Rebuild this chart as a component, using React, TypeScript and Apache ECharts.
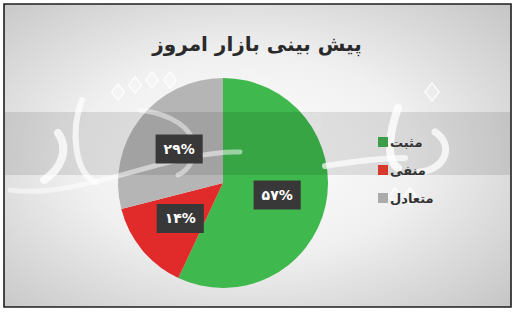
import React, { useEffect, useRef } from "react";
import * as echarts from "echarts";

const title = "پیش بینی بازار امروز";
const categories = ["مثبت", "منفی", "متعادل"];
const values = [57, 14, 29];
const colors = ["#3fb84d", "#e12b2b", "#b5b5b5"];
const legendColors = ["#3c9c47", "#d8372b", "#ababab"];
const toPersian = (n: number) => String(n).replace(/[0-9]/g, (d) => "۰۱۲۳۴۵۶۷۸۹"[+d]);

const strokeStyle = (w: number, a: number) => ({
  stroke: `rgba(255,255,255,${a})`,
  lineWidth: w,
  fill: "none",
  lineCap: "round",
});

const diamond = (cx: number, cy: number, s: number) => ({
  type: "polygon",
  z: 11,
  silent: true,
  shape: { points: [[cx, cy - s], [cx + s * 0.8, cy], [cx, cy + s], [cx - s * 0.8, cy]] },
  style: { fill: "rgba(255,255,255,0.25)", stroke: "rgba(255,255,255,0.8)", lineWidth: 1.5 },
});

export default function App() {
  const ref = useRef<HTMLDivElement>(null);
  useEffect(() => {
    const chart = echarts.init(ref.current!, null, { renderer: "svg" });
    const font = "DejaVu Sans";
    const pieBase = {
      type: "pie",
      center: [223, 183],
      radius: 105,
      startAngle: 90,
      clockwise: true,
      labelLine: { show: false },
      emphasis: { disabled: true },
      silent: true,
    };
    chart.setOption({
      animation: false,
      graphic: [
        {
          type: "rect",
          z: -10,
          shape: { x: 4, y: 4, width: 507, height: 303 },
          style: {
            fill: new echarts.graphic.RadialGradient(0.48, 0.5, 0.75, [
              { offset: 0, color: "#ffffff" },
              { offset: 0.45, color: "#f0f0f0" },
              { offset: 1, color: "#c2c2c2" },
            ]),
            stroke: "#1e1e1e",
            lineWidth: 1.6,
          },
        },
        {
          type: "rect",
          z: 10,
          silent: true,
          shape: { x: 5, y: 112, width: 505, height: 63 },
          style: { fill: "rgba(0,0,0,0.1)" },
        },
        { type: "bezierCurve", z: 11, silent: true, shape: { x1: 58, y1: 133, x2: 44, y2: 180, cpx1: 70, cpy1: 150, cpx2: 60, cpy2: 170 }, style: strokeStyle(8, 0.75) },
        { type: "bezierCurve", z: 11, silent: true, shape: { x1: 82, y1: 100, x2: 96, y2: 182, cpx1: 70, cpy1: 130, cpx2: 75, cpy2: 175 }, style: strokeStyle(6, 0.7) },
        { type: "bezierCurve", z: 11, silent: true, shape: { x1: 10, y1: 190, x2: 240, y2: 152, cpx1: 80, cpy1: 200, cpx2: 170, cpy2: 150 }, style: strokeStyle(5, 0.5) },
        { type: "bezierCurve", z: 11, silent: true, shape: { x1: 140, y1: 110, x2: 178, y2: 175, cpx1: 210, cpy1: 120, cpx2: 200, cpy2: 165 }, style: strokeStyle(5, 0.45) },
        { type: "bezierCurve", z: 11, silent: true, shape: { x1: 398, y1: 108, x2: 398, y2: 168, cpx1: 390, cpy1: 130, cpx2: 385, cpy2: 160 }, style: strokeStyle(8, 0.8) },
        { type: "bezierCurve", z: 11, silent: true, shape: { x1: 435, y1: 132, x2: 420, y2: 172, cpx1: 455, cpy1: 145, cpx2: 445, cpy2: 170 }, style: strokeStyle(7, 0.75) },
        { type: "bezierCurve", z: 11, silent: true, shape: { x1: 325, y1: 166, x2: 405, y2: 158, cpx1: 350, cpy1: 162, cpx2: 380, cpy2: 158 }, style: strokeStyle(6, 0.7) },
        diamond(118, 92, 8),
        diamond(135, 85, 8),
        diamond(152, 80, 8),
        diamond(170, 80, 8),
        diamond(432, 92, 9),
        diamond(395, 196, 8),
        diamond(410, 196, 8),
        {
          type: "group",
          z: 11,
          x: 292,
          y: 122,
          children: [
            {
              type: "rect",
              shape: { x: -28, y: -8, width: 56, height: 16 },
              style: { fill: "rgba(255,255,255,0.3)", stroke: "rgba(255,255,255,0.7)", lineWidth: 1 },
            },
            {
              type: "text",
              style: {
                text: "روزنامه صبح ایران",
                x: 0,
                y: 0,
                align: "center",
                verticalAlign: "middle",
                font: "8px 'DejaVu Sans'",
                fill: "rgba(255,255,255,0.9)",
              },
            },
          ],
        },
        {
          type: "text",
          z: 12,
          style: {
            text: title,
            x: 257,
            y: 44,
            align: "center",
            verticalAlign: "middle",
            font: "bold 20px 'DejaVu Sans'",
            fill: "#2a2a2a",
          },
        },
      ],
      legend: {
        z: 20,
        orient: "vertical",
        left: 373,
        top: 130,
        icon: "rect",
        itemWidth: 10,
        itemHeight: 10,
        itemGap: 14,
        selectedMode: false,
        data: categories.map((c, i) => ({ name: c, itemStyle: { color: legendColors[i] } })),
        textStyle: { fontFamily: font, fontSize: 13, fontWeight: "bold", color: "#333", lineHeight: 14, padding: [0, 0, 0, -3] },
      },
      series: [
        {
          ...pieBase,
          name: "slices",
          z: 5,
          data: categories.map((c, i) => ({ name: c, value: values[i], itemStyle: { color: colors[i] } })),
          label: { show: false },
        },
        {
          ...pieBase,
          name: "labels",
          z: 15,
          legendHoverLink: false,
          data: categories.map((c, i) => ({ name: c, value: values[i], itemStyle: { color: "rgba(0,0,0,0)" } })),
          label: {
            show: true,
            position: "inside",
            formatter: (p: any) => toPersian(p.value) + "%",
            backgroundColor: "#383838",
            color: "#ffffff",
            fontFamily: font,
            fontWeight: "bold",
            fontSize: 14,
            padding: [8, 8, 7, 8],
          },
        },
      ],
    });
    return () => chart.dispose();
  }, []);
  return <div ref={ref} style={{ position: "absolute", left: 0, top: 0, width: 515, height: 312 }} />;
}
